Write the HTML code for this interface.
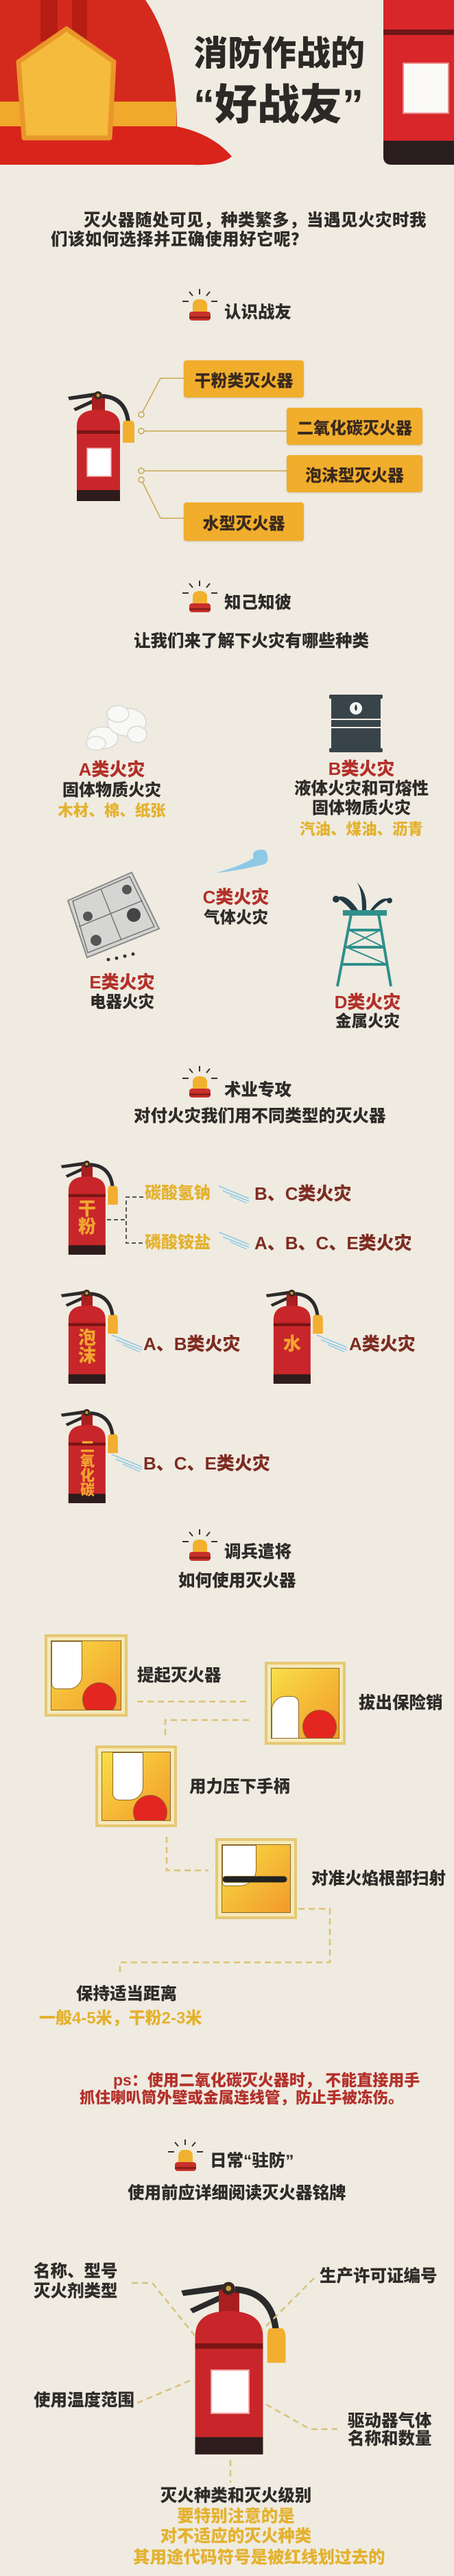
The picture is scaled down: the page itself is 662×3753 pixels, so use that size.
<!DOCTYPE html>
<html><head><meta charset="utf-8">
<style>
*{margin:0;padding:0;box-sizing:border-box}
body{width:662px;height:3753px;background:#efebe1;position:relative;overflow:hidden;font-family:"Liberation Sans","Noto Sans CJK SC",sans-serif}
.t{position:absolute;white-space:nowrap;font-weight:900;line-height:1;transform:translateY(-50%);color:#2e2b28;font-size:24.5px}
.c{text-align:center;width:300px}
.r{color:#b3302a}
.dr{color:#7e2c22}
.g{color:#e4b230}
.box{position:absolute;background:#f1ad2c;border-radius:4px;box-shadow:0 1px 2px rgba(120,80,0,.3);display:flex;align-items:center;justify-content:center;font-weight:900;font-size:24px;color:#3a2a1e}
.vt{position:absolute;color:#f2a531;font-weight:900;line-height:1;text-align:center}
.ext{position:absolute}
.panel{position:absolute;border:4px solid #e6c874;background:#f5e9b8;padding:5px}
.panel div{width:100%;height:100%;border:1px solid #8a6a2a;background:linear-gradient(135deg,#f8df4a 0%,#f6c23a 40%,#f29a2a 100%);position:relative;overflow:hidden}
</style></head><body>

<svg width="662" height="3753" style="position:absolute;left:0;top:0" xmlns="http://www.w3.org/2000/svg">
<defs>
<g id="ex">
  <path d="M2,9 L42,3 L43,9 L4,14 Z" fill="#2a2a2a"/>
  <path d="M10,26 L40,12 L42,17 L13,30 Z" fill="#2a2a2a"/>
  <rect x="37" y="8" width="19" height="22" fill="#a91f1f"/>
  <circle cx="46" cy="7" r="6" fill="#3a2a20"/><circle cx="46" cy="7" r="2.5" fill="#c9a040"/>
  <path d="M52,8 Q86,10 90,46" fill="none" stroke="#2a2a2a" stroke-width="6"/>
  <path d="M84,44 H96 Q99,46 99,52 V76 H82 V52 Q82,46 84,44 Z" fill="#f2ae2e"/>
  <path d="M15,161 V52 Q15,28 46,28 Q78,28 78,52 V161 Z" fill="#c8262a"/>
  <rect x="15" y="58" width="63" height="5" fill="#7a1515"/>
  <rect x="15" y="145" width="63" height="16" fill="#2e1c1c"/>
</g>
</defs>

<!-- helmet -->
<path d="M0,0 H212 C246,50 258,110 258,190 L0,190 Z" fill="#d42a1e"/>
<rect x="59" y="0" width="25" height="60" fill="#b51d15"/>
<rect x="105" y="0" width="22" height="60" fill="#b51d15"/>
<rect x="0" y="148" width="257" height="36" fill="#f0a92a"/>
<path d="M0,184 L257,184 Q310,195 338,228 Q322,242 280,240 L0,240 Z" fill="#d8241a"/>
<path d="M97,42 L166,90 L160,201 L35,201 L27,90 Z" fill="#f5bb3c" stroke="#e9962a" stroke-width="7" stroke-linejoin="round"/>

<!-- top right extinguisher -->
<rect x="559" y="-20" width="120" height="260" rx="12" fill="#d8262a"/>
<rect x="559" y="43" width="110" height="8" fill="#701717"/>
<path d="M559,205 H662 V240 H571 Q559,240 559,228 Z" fill="#2a1d1f"/>
<rect x="588" y="92" width="66" height="73" fill="#fbfaf7" stroke="#e98a8a" stroke-width="2"/>

<!-- beacons -->
<g id="bc1" transform="translate(266,421)">
  <line x1="25" y1="0" x2="25" y2="8" stroke="#333" stroke-width="2"/>
  <line x1="10" y1="4" x2="15" y2="10" stroke="#333" stroke-width="2"/>
  <line x1="40" y1="4" x2="35" y2="10" stroke="#333" stroke-width="2"/>
  <line x1="0" y1="18" x2="9" y2="18" stroke="#333" stroke-width="2"/>
  <line x1="42" y1="18" x2="51" y2="18" stroke="#333" stroke-width="2"/>
  <path d="M15,34 V24 Q15,15 25,15 Q36,15 36,24 V34 Z" fill="#f1b12e"/>
  <rect x="10" y="33" width="31" height="13" rx="4" fill="#c8312a"/>
  <rect x="10" y="40" width="31" height="3" fill="#8a1f1a"/>
</g>
<use href="#bc1" transform="translate(0,425)"/>
<use href="#bc1" transform="translate(0,1132)"/>
<use href="#bc1" transform="translate(0,1807)"/>
<use href="#bc1" transform="translate(-21,2696)"/>

<!-- section1 extinguisher -->
<use href="#ex" transform="translate(97,569)"/>
<rect x="127" y="653" width="35" height="41" fill="#fff" stroke="#f0a0a0" stroke-width="1.5"/>

<!-- section1 connectors -->
<g fill="none" stroke="#c9a850" stroke-width="1.5">
<circle cx="206" cy="604" r="4"/><circle cx="206" cy="628" r="4"/>
<circle cx="206" cy="686" r="4"/><circle cx="206" cy="699" r="4"/>
<path d="M208,600 L234,551 H268"/><path d="M210,628 H418"/>
<path d="M210,686 H418"/><path d="M208,703 L234,755 H268"/>
</g>

<!-- cloud -->
<g fill="#f8f8f6" stroke="#d8d8d4" stroke-width="1.5">
<ellipse cx="150" cy="1075" rx="22" ry="16"/><ellipse cx="140" cy="1083" rx="14" ry="10"/>
<ellipse cx="185" cy="1052" rx="28" ry="20"/><ellipse cx="200" cy="1070" rx="14" ry="12"/>
<ellipse cx="172" cy="1040" rx="16" ry="12"/>
</g>
<!-- barrel -->
<rect x="483" y="1014" width="72" height="81" rx="3" fill="#39434a"/>
<rect x="480" y="1012" width="78" height="6" rx="2" fill="#39434a"/>
<rect x="480" y="1090" width="78" height="6" rx="2" fill="#39434a"/>
<line x1="483" y1="1048" x2="555" y2="1048" stroke="#efebe1" stroke-width="2"/>
<line x1="483" y1="1060" x2="555" y2="1060" stroke="#efebe1" stroke-width="2"/>
<circle cx="519" cy="1032" r="9" fill="#f4f4f4"/>
<path d="M519,1026 Q523,1032 519,1036 Q515,1032 519,1026" fill="#39434a"/>
<!-- wisp -->
<path d="M314,1272 Q350,1262 370,1250 Q366,1240 378,1238 Q390,1236 390,1248 Q392,1258 382,1260 Q350,1268 314,1272 Z" fill="#8ec9e6"/>
<!-- stove -->
<polygon points="99,1312 192,1271 232,1353 127,1395" fill="#d5d5d3" stroke="#8a8a88" stroke-width="2"/>
<polygon points="106,1313 189,1277 225,1350 128,1388" fill="none" stroke="#777" stroke-width="1.5"/>
<line x1="147" y1="1295" x2="177" y2="1370" stroke="#777" stroke-width="1.5"/>
<line x1="115" y1="1350" x2="208" y2="1312" stroke="#777" stroke-width="1.5"/>
<circle cx="128" cy="1335" r="7" fill="#555"/><circle cx="185" cy="1296" r="7" fill="#555"/>
<circle cx="195" cy="1333" r="10" fill="#444"/><circle cx="140" cy="1370" r="8" fill="#555"/>
<circle cx="158" cy="1398" r="2.5" fill="#333"/><circle cx="170" cy="1396" r="2.5" fill="#333"/><circle cx="182" cy="1393" r="2.5" fill="#333"/><circle cx="194" cy="1390" r="2.5" fill="#333"/>
<!-- tower -->
<g fill="#233a44">
<path d="M522,1326 Q505,1300 490,1308 Q500,1312 512,1326 Z"/>
<path d="M528,1326 Q528,1295 520,1285 Q536,1300 534,1326 Z"/>
<path d="M540,1326 Q555,1305 568,1310 Q555,1315 545,1326 Z"/>
<circle cx="490" cy="1310" r="5"/><circle cx="568" cy="1312" r="4"/>
</g>
<g fill="none" stroke="#2f8f8a" stroke-width="4">
<path d="M502,1330 H562"/><path d="M512,1332 L492,1437"/><path d="M552,1332 L570,1437"/>
<path d="M509,1355 H555 M505,1380 H560 M500,1405 H564"/>
<path d="M509,1355 L560,1380 M505,1380 L564,1405 M555,1355 L505,1380" stroke-width="2"/>
</g>
<rect x="500" y="1326" width="64" height="8" fill="#2f8f8a"/>

<!-- section3 extinguishers -->
<use href="#ex" transform="translate(87,1690) scale(0.857)"/>
<use href="#ex" transform="translate(87,1878) scale(0.857)"/>
<use href="#ex" transform="translate(386,1878) scale(0.857)"/>
<use href="#ex" transform="translate(87,2052) scale(0.857)"/>
<g fill="none" stroke="#555" stroke-width="2" stroke-dasharray="6 4">
<path d="M156,1777 H184"/><path d="M209,1744 H184 V1811 H209"/>
</g>
<g stroke="#8ec9e6" stroke-width="1.5">
<path d="M319,1728 L363,1746 M325,1735 L363,1750 M335,1742 L360,1753"/>
<path d="M319,1795 L363,1813 M325,1802 L363,1817 M335,1809 L360,1820"/>
<path d="M163,1945 L207,1963 M169,1952 L207,1967 M179,1959 L204,1970"/>
<path d="M462,1945 L506,1963 M468,1952 L506,1967 M478,1959 L503,1970"/>
<path d="M163,2119 L207,2137 M169,2126 L207,2141 M179,2133 L204,2144"/>
</g>

<!-- section4 dashed -->
<g fill="none" stroke="#dcc274" stroke-width="2.5" stroke-dasharray="9 6">
<path d="M200,2479 H363"/><path d="M363,2506 H241 V2529"/>
<path d="M243,2676 V2725 H304"/><path d="M435,2781 H481 V2859 H175 V2877"/>
</g>

<!-- section5 big extinguisher -->
<use href="#ex" transform="translate(261,3323) scale(1.57)"/>
<rect x="308" y="3453" width="55" height="63" fill="#fff" stroke="#f0a0a0" stroke-width="2"/>
<g fill="none" stroke="#d6c27a" stroke-width="2.5" stroke-dasharray="9 6">
<path d="M192,3326 H222 L285,3404"/><path d="M458,3319 L382,3395"/>
<path d="M200,3501 L285,3465"/><path d="M388,3503 L452,3539 H492"/>
<path d="M336,3584 V3617"/>
</g>
</svg>

<!-- title -->
<div class="t" style="left:282px;top:78px;font-size:50px;color:#2b2926">消防作战的</div>
<div class="t" style="left:282px;top:154px;font-size:62px;color:#2b2926">“好战友”</div>

<div class="t" style="left:122px;top:322px;letter-spacing:0.5px">灭火器随处可见，种类繁多，当遇见火灾时我</div>
<div class="t" style="left:74px;top:350px;letter-spacing:0.5px">们该如何选择并正确使用好它呢？</div>

<div class="t" style="left:327px;top:456px">认识战友</div>
<div class="box" style="left:268px;top:525px;width:175px;height:54px">干粉类灭火器</div>
<div class="box" style="left:418px;top:594px;width:198px;height:54px">二氧化碳灭火器</div>
<div class="box" style="left:418px;top:663px;width:198px;height:54px">泡沫型灭火器</div>
<div class="box" style="left:268px;top:732px;width:175px;height:56px">水型灭火器</div>

<div class="t" style="left:327px;top:879px">知己知彼</div>
<div class="t c" style="left:195px;top:935px">让我们来了解下火灾有哪些种类</div>

<div class="t c r" style="left:13px;top:1121px;font-size:26px">A类火灾</div>
<div class="t c" style="left:13px;top:1152px;font-size:24px">固体物质火灾</div>
<div class="t c g" style="left:13px;top:1182px;font-size:22.5px">木材、棉、纸张</div>

<div class="t c r" style="left:377px;top:1120px;font-size:26px">B类火灾</div>
<div class="t c" style="left:377px;top:1150px;font-size:24.5px">液体火灾和可熔性</div>
<div class="t c" style="left:377px;top:1178px;font-size:24px">固体物质火灾</div>
<div class="t c g" style="left:377px;top:1209px;font-size:22.5px">汽油、煤油、沥青</div>

<div class="t c r" style="left:194px;top:1307px;font-size:26px">C类火灾</div>
<div class="t c" style="left:194px;top:1337px;font-size:23.5px">气体火灾</div>

<div class="t c r" style="left:28px;top:1431px;font-size:26px">E类火灾</div>
<div class="t c" style="left:28px;top:1460px;font-size:23.5px">电器火灾</div>

<div class="t c r" style="left:386px;top:1460px;font-size:26px">D类火灾</div>
<div class="t c" style="left:386px;top:1488px;font-size:23.5px">金属火灾</div>

<div class="t" style="left:327px;top:1589px">术业专攻</div>
<div class="t c" style="left:195px;top:1627px">对付火灾我们用不同类型的灭火器</div>

<div class="vt" style="left:114px;top:1748px;font-size:26px;width:26px">干<br>粉</div>
<div class="vt" style="left:114px;top:1936px;font-size:26px;width:26px">泡<br>沫</div>
<div class="vt" style="left:413px;top:1945px;font-size:26px;width:26px">水</div>
<div class="vt" style="left:117px;top:2098px;font-size:21px;width:21px">二<br>氧<br>化<br>碳</div>

<div class="t g" style="left:211px;top:1739px;font-size:24px">碳酸氢钠</div>
<div class="t g" style="left:211px;top:1811px;font-size:24px">磷酸铵盐</div>
<div class="t dr" style="left:371px;top:1739px;font-size:26px">B、C类火灾</div>
<div class="t dr" style="left:371px;top:1811px;font-size:26px">A、B、C、E类火灾</div>
<div class="t dr" style="left:209px;top:1958px;font-size:26px">A、B类火灾</div>
<div class="t dr" style="left:509px;top:1958px;font-size:26px">A类火灾</div>
<div class="t dr" style="left:209px;top:2132px;font-size:26px">B、C、E类火灾</div>

<div class="t" style="left:327px;top:2262px">调兵遣将</div>
<div class="t" style="left:260px;top:2304px">如何使用灭火器</div>

<div class="panel" style="left:65px;top:2381px;width:121px;height:120px"><div>
<div style="position:absolute;left:45px;top:60px;width:50px;height:50px;border-radius:50%;background:#e3261f"></div>
<div style="position:absolute;left:0;top:0;width:45px;height:70px;background:#fff;border-radius:0 0 20px 8px"></div></div></div>
<div class="panel" style="left:386px;top:2421px;width:118px;height:121px"><div>
<div style="position:absolute;left:45px;top:60px;width:50px;height:50px;border-radius:50%;background:#e3261f"></div>
<div style="position:absolute;left:0;top:40px;width:40px;height:70px;background:#fff;border-radius:20px 10px 0 0"></div></div></div>
<div class="panel" style="left:139px;top:2543px;width:119px;height:119px"><div>
<div style="position:absolute;left:45px;top:62px;width:50px;height:50px;border-radius:50%;background:#e3261f"></div>
<div style="position:absolute;left:15px;top:0;width:45px;height:70px;background:#fff;border-radius:0 0 20px 10px"></div></div></div>
<div class="panel" style="left:314px;top:2678px;width:119px;height:118px"><div>
<div style="position:absolute;left:0;top:0;width:50px;height:60px;background:#fff;border-radius:0 0 25px 5px"></div>
<div style="position:absolute;left:0;top:45px;width:95px;height:10px;background:#222;border-radius:5px"></div></div></div>

<div class="t" style="left:200px;top:2442px">提起灭火器</div>
<div class="t" style="left:523px;top:2482px">拔出保险销</div>
<div class="t" style="left:276px;top:2604px">用力压下手柄</div>
<div class="t" style="left:454px;top:2738px">对准火焰根部扫射</div>
<div class="t" style="left:111px;top:2906px">保持适当距离</div>
<div class="t g" style="left:57px;top:2941px;font-size:24px">一般4-5米，干粉2-3米</div>

<div class="t r" style="left:165px;top:3031px;font-size:23px">ps：使用二氧化碳灭火器时， 不能直接用手</div>
<div class="t r" style="left:116px;top:3057px;font-size:22.5px">抓住喇叭筒外壁或金属连线管，防止手被冻伤。</div>

<div class="t" style="left:306px;top:3149px">日常“驻防”</div>
<div class="t" style="left:186px;top:3196px">使用前应详细阅读灭火器铭牌</div>

<div class="t" style="left:49px;top:3310px">名称、型号</div>
<div class="t" style="left:49px;top:3339px">灭火剂类型</div>
<div class="t" style="left:466px;top:3317px">生产许可证编号</div>
<div class="t" style="left:49px;top:3498px">使用温度范围</div>
<div class="t" style="left:507px;top:3528px">驱动器气体</div>
<div class="t" style="left:507px;top:3554px">名称和数量</div>

<div class="t c" style="left:194px;top:3637px">灭火种类和灭火级别</div>
<div class="t c g" style="left:194px;top:3667px">要特别注意的是</div>
<div class="t c g" style="left:194px;top:3696px">对不适应的灭火种类</div>
<div class="t c g" style="left:194px;top:3727px">其用途代码符号是被红线划过去的</div>
</body></html>
